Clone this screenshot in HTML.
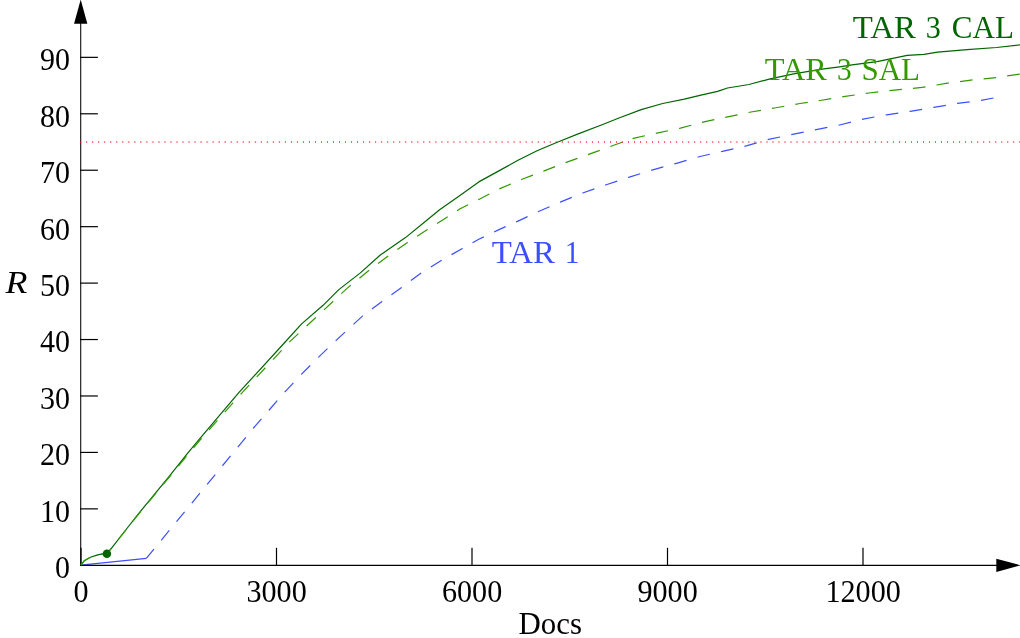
<!DOCTYPE html>
<html><head><meta charset="utf-8"><title>Recall vs Docs</title>
<style>
html,body{margin:0;padding:0;background:#fff;}
svg{display:block;}
text{font-family:"Liberation Serif",serif;font-size:30.6px;}
</style></head><body>
<svg width="1020" height="638" viewBox="0 0 1020 638">
<rect width="1020" height="638" fill="#fff"/>
<polyline points="80.9,565.1 146.3,558.4" fill="none" stroke="#3b4fff" stroke-width="1.2"/>
<g stroke="#000" stroke-width="1.2" fill="none">
<line x1="80.72" y1="565.9" x2="80.72" y2="20" stroke-width="1.05"/>
<line x1="80.10" y1="565.3" x2="1000" y2="565.3"/>
<line x1="80.1" y1="508.86" x2="97.9" y2="508.86"/>
<line x1="80.1" y1="452.42" x2="97.9" y2="452.42"/>
<line x1="80.1" y1="395.98" x2="97.9" y2="395.98"/>
<line x1="80.1" y1="339.54" x2="97.9" y2="339.54"/>
<line x1="80.1" y1="283.11" x2="97.9" y2="283.11"/>
<line x1="80.1" y1="226.67" x2="97.9" y2="226.67"/>
<line x1="80.1" y1="170.23" x2="97.9" y2="170.23"/>
<line x1="80.1" y1="113.79" x2="97.9" y2="113.79"/>
<line x1="80.1" y1="57.35" x2="97.9" y2="57.35"/>
<line x1="81.00" y1="565.9" x2="81.00" y2="547.8"/>
<line x1="276.50" y1="565.9" x2="276.50" y2="547.8"/>
<line x1="472.00" y1="565.9" x2="472.00" y2="547.8"/>
<line x1="667.50" y1="565.9" x2="667.50" y2="547.8"/>
<line x1="863.00" y1="565.9" x2="863.00" y2="547.8"/>
</g>
<line x1="80.2" y1="142.0" x2="1020" y2="142.0" stroke="#ff0000" stroke-width="1.4" stroke-dasharray="0.95 5.07" stroke-opacity="0.9"/>
<polygon points="80.7,-0.4 74.05,23.8 87.35,23.8" fill="#000"/>
<polygon points="1020.5,565.3 996.3,558.65 996.3,571.95" fill="#000"/>
<polyline points="146.3,558.4 237.8,447.1 253.5,428 269.2,410 284.9,391.8 301.6,374.1 318.6,357.1 336.9,339.6 362.4,316.1 382,301.4 401.6,287.6 421.2,272.9 441.8,260.2 462.4,248.4 478.8,239.3 498.4,229.9 518,221.1 537.6,211.9 560.2,202.1 582.7,193 606.3,184.8 629.4,177.1 652.9,169.8 676.5,163.3 700,156.5 723.5,151.2 747.1,145.7 768.6,139.4 800,132.9 820,128.9 839.6,125 863.1,119.1 886.7,114.8 910.2,111.3 933.7,107.4 957.3,103.4 980.8,100.5 994.1,97.9" fill="none" stroke="#3b4fff" stroke-width="1.2" stroke-dasharray="12.7 11.42" stroke-dashoffset="0.66"/>
<polyline points="80.9,565.1 84.3,560.7 90.5,557.3 96.8,555.1 102.5,553.9 106.9,553.7 110.6,549.4 125.7,530.0 138.8,513.4 170.2,475.2 186.9,454.1 199.6,438.9 238.8,392.7 282.9,344.5 301.6,323.9 323.1,305.3 338.8,289.6 360.4,272.9 380,255.3 405.5,237.6 427.1,220 439.6,209.7 459.2,196 478.8,181.9 498.4,171.1 518,160.3 537.6,150.5 557.3,142.3 576.9,134.4 601.4,125 619.6,117.8 641.2,109.6 662.7,103.5 684.3,99.2 702,94.9 717.6,91.4 727.5,88 749,84.5 769.2,79.1 793.6,73.9 821.9,69.2 839.6,66.8 852,64.9 877,61.6 907.2,55.4 924,54.3 937.6,52.1 967.1,49.7 996.5,47.5 1020,44.8" fill="none" stroke="#006400" stroke-width="1.2" stroke-linejoin="round"/>
<polyline points="80.9,565.1 84.3,560.7 90.5,557.3 96.8,555.1 102.5,553.9 106.9,553.7 138.8,513.8 170.2,476.0 199.6,440.6 238.8,396.2 289.8,341.6 315.3,318 346.7,288.6 368.2,271 387.8,256.3 407.5,242.5 427.1,229.8 442.7,220 459.2,209.3 478.8,199.5 498.4,189.3 522,179.3 543.5,171.1 565.1,162.8 588.6,154.4 620,143 633.3,138.4 656.9,133.1 680.4,128.2 703.9,121.8 727.5,116.9 751,112 774.5,108 800,103.5 820,100.5 843.5,96.6 869,93 894.5,90.1 922,87.4 947.5,83.2 972.9,79.9 996.5,77.5 1020,74" fill="none" stroke="#339900" stroke-width="1.2" stroke-dasharray="12.6 11.16"/>
<circle cx="106.9" cy="553.75" r="4.25" fill="#006400"/>
<text x="69.95" y="578.2" text-anchor="end" font-size="30.6" textLength="14.99" lengthAdjust="spacingAndGlyphs">0</text>
<text x="69.95" y="521.8" text-anchor="end" font-size="30.6" textLength="29.99" lengthAdjust="spacingAndGlyphs">10</text>
<text x="69.95" y="465.3" text-anchor="end" font-size="30.6" textLength="29.99" lengthAdjust="spacingAndGlyphs">20</text>
<text x="69.95" y="408.9" text-anchor="end" font-size="30.6" textLength="29.99" lengthAdjust="spacingAndGlyphs">30</text>
<text x="69.95" y="352.4" text-anchor="end" font-size="30.6" textLength="29.99" lengthAdjust="spacingAndGlyphs">40</text>
<text x="69.95" y="296.0" text-anchor="end" font-size="30.6" textLength="29.99" lengthAdjust="spacingAndGlyphs">50</text>
<text x="69.95" y="239.6" text-anchor="end" font-size="30.6" textLength="29.99" lengthAdjust="spacingAndGlyphs">60</text>
<text x="69.95" y="183.1" text-anchor="end" font-size="30.6" textLength="29.99" lengthAdjust="spacingAndGlyphs">70</text>
<text x="69.95" y="126.7" text-anchor="end" font-size="30.6" textLength="29.99" lengthAdjust="spacingAndGlyphs">80</text>
<text x="69.95" y="70.3" text-anchor="end" font-size="30.6" textLength="29.99" lengthAdjust="spacingAndGlyphs">90</text>
<text x="81.10" y="601.9" text-anchor="middle" font-size="30.6" textLength="15.07" lengthAdjust="spacingAndGlyphs">0</text>
<text x="276.60" y="601.9" text-anchor="middle" font-size="30.6" textLength="60.28" lengthAdjust="spacingAndGlyphs">3000</text>
<text x="472.10" y="601.9" text-anchor="middle" font-size="30.6" textLength="60.28" lengthAdjust="spacingAndGlyphs">6000</text>
<text x="667.60" y="601.9" text-anchor="middle" font-size="30.6" textLength="60.28" lengthAdjust="spacingAndGlyphs">9000</text>
<text x="863.10" y="601.9" text-anchor="middle" font-size="30.6" textLength="75.35" lengthAdjust="spacingAndGlyphs">12000</text>
<text y="633.6" font-size="30.0"><tspan x="518.60" textLength="63.39" lengthAdjust="spacingAndGlyphs">Docs</tspan></text>
<text y="292.9" font-size="30.0" font-style="italic"><tspan x="5.45" textLength="21.94" lengthAdjust="spacingAndGlyphs">R</tspan></text>
<text y="38.1" font-size="30.0" fill="#006400"><tspan x="852.75" textLength="63.07" lengthAdjust="spacingAndGlyphs">TAR</tspan> <tspan x="925.70" textLength="15.03" lengthAdjust="spacingAndGlyphs">3</tspan> <tspan x="951.81" textLength="62.11" lengthAdjust="spacingAndGlyphs">CAL</tspan></text>
<text y="80.0" font-size="30.0" fill="#339900"><tspan x="764.76" textLength="62.06" lengthAdjust="spacingAndGlyphs">TAR</tspan> <tspan x="836.93" textLength="14.67" lengthAdjust="spacingAndGlyphs">3</tspan> <tspan x="861.43" textLength="58.54" lengthAdjust="spacingAndGlyphs">SAL</tspan></text>
<text y="263.0" font-size="30.0" fill="#3b4fff"><tspan x="491.75" textLength="63.07" lengthAdjust="spacingAndGlyphs">TAR</tspan> <tspan x="564.71" textLength="14.82" lengthAdjust="spacingAndGlyphs">1</tspan></text>
</svg>
</body></html>
